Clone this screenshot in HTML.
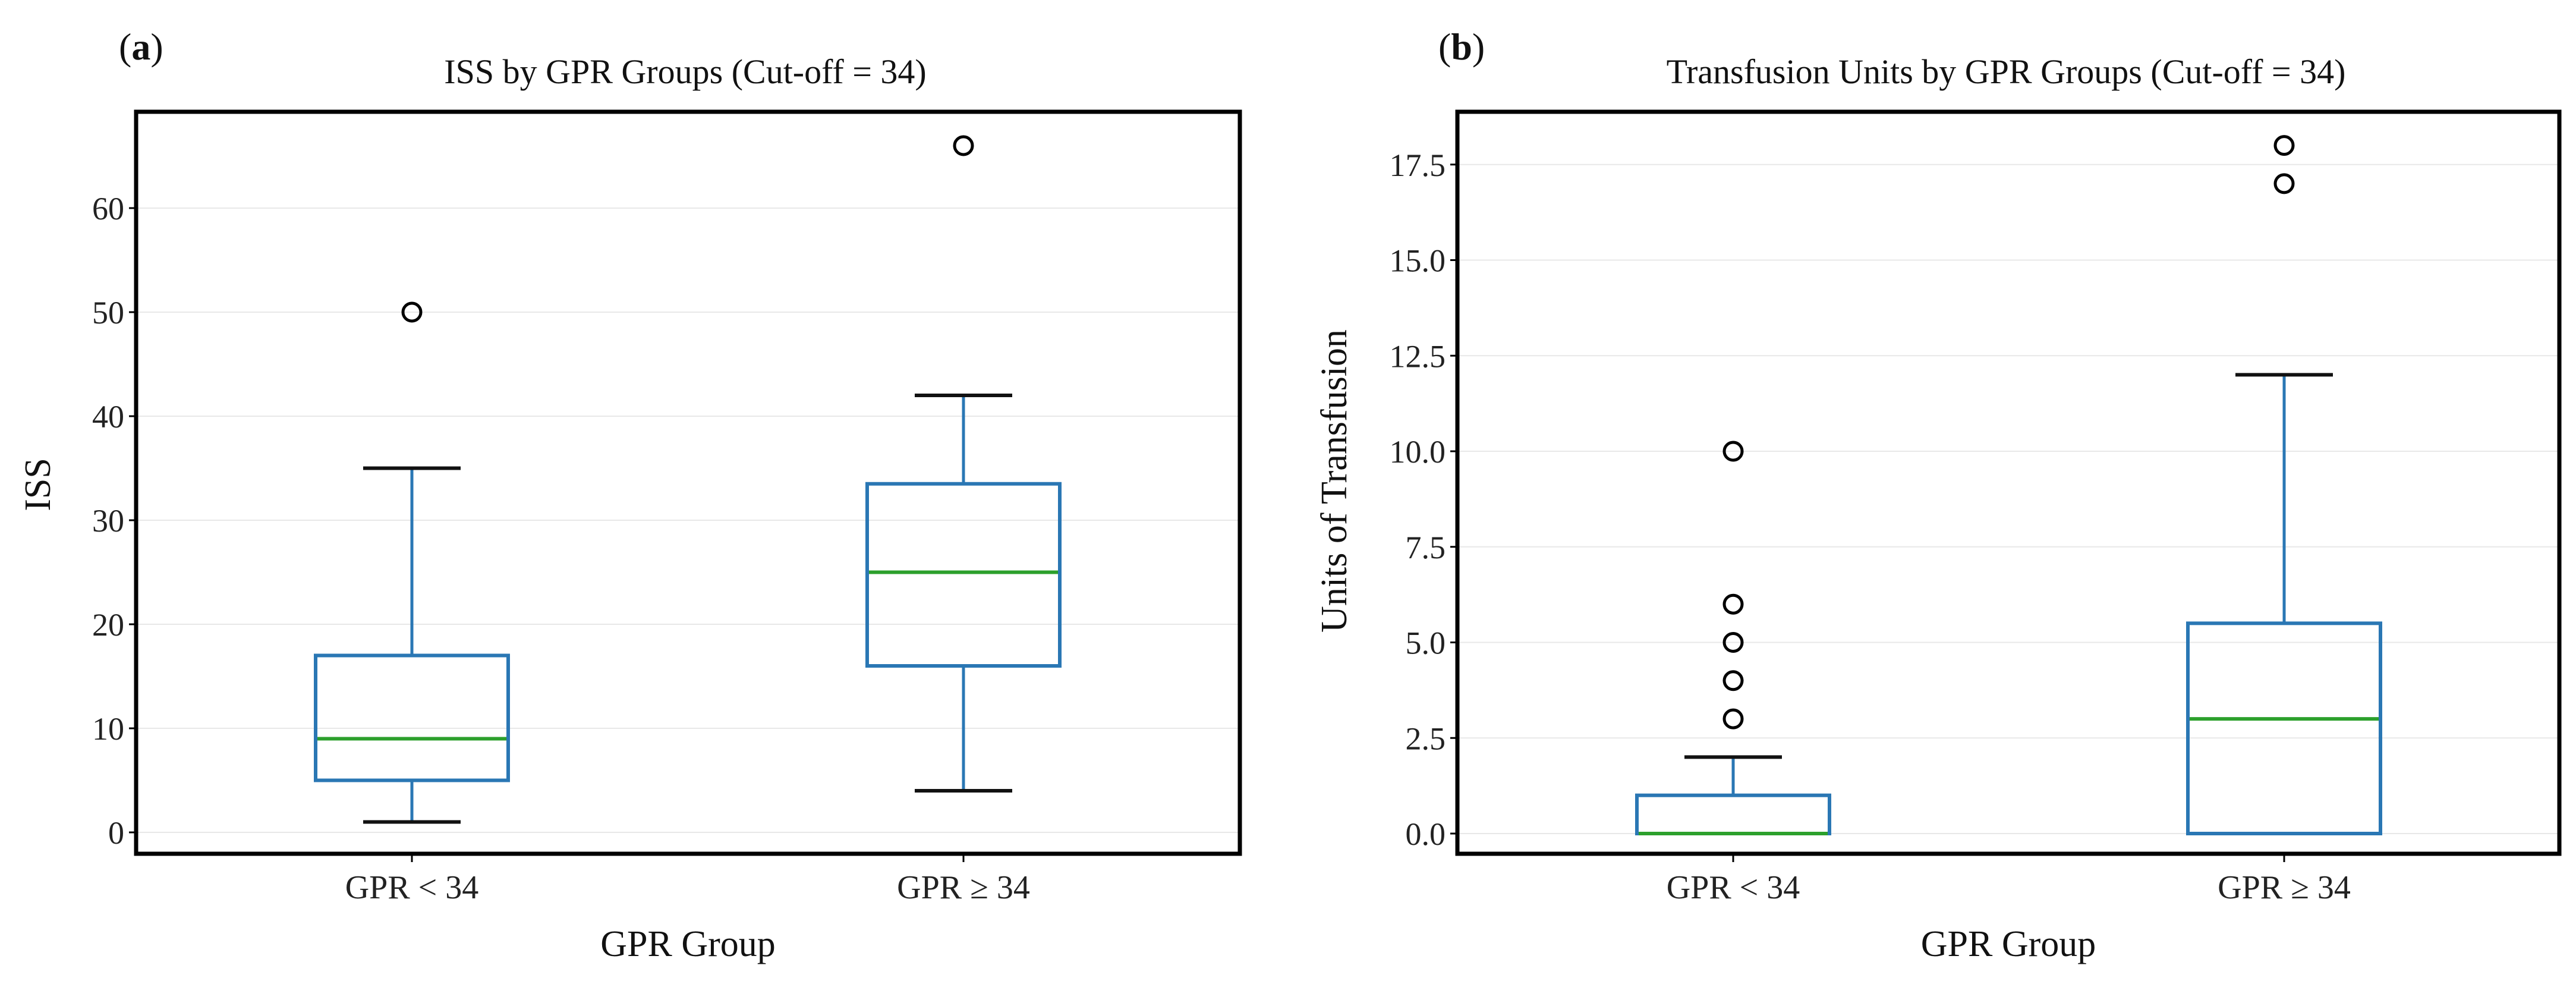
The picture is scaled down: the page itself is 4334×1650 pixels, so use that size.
<!DOCTYPE html>
<html><head><meta charset="utf-8"><style>
html,body{margin:0;padding:0;background:#fff;}
svg{display:block;font-family:"Liberation Serif",serif;}
</style></head><body>
<svg id="chart" width="4334" height="1650" viewBox="0 0 4334 1650" xmlns="http://www.w3.org/2000/svg"></svg>
<script>
// Panel (a) data: ISS
const catsA = ["GPR < 34", "GPR \u2265 34"];
const q1A = [5, 16];
const medA = [9, 25];
const q3A = [17, 33.5];
const loA = [1, 4];
const hiA = [35, 42];
const outA = [[50], [66]];
const ticksA = [0, 10, 20, 30, 40, 50, 60];
const tickLabelsA = ["0", "10", "20", "30", "40", "50", "60"];
// Panel (b) data: Transfusion units
const catsB = ["GPR < 34", "GPR \u2265 34"];
const q1B = [0, 0];
const medB = [0, 3];
const q3B = [1, 5.5];
const loB = [0, 0];
const hiB = [2, 12];
const outB = [[3, 4, 5, 6, 10], [17, 18]];
const ticksB = [0, 2.5, 5, 7.5, 10, 12.5, 15, 17.5];
const tickLabelsB = ["0.0", "2.5", "5.0", "7.5", "10.0", "12.5", "15.0", "17.5"];

const NS = "http://www.w3.org/2000/svg";
const svg = document.getElementById("chart");
function mk(tag, attrs, parent, text) {
  const e = document.createElementNS(NS, tag);
  for (const k in attrs) e.setAttribute(k, attrs[k]);
  if (text !== undefined) e.textContent = text;
  (parent || svg).appendChild(e);
  return e;
}

function panel(p) {
  const g = mk("g", {});
  
  
  const y = v => p.y0 - (v - 0) * p.pxPerUnit;
  const x = i => p.xc[i];
  // gridlines
  p.ticks.forEach((t, i) => {
    const gl = mk("line", {x1: p.left, x2: p.right, y1: y(t), y2: y(t), stroke: "#e8e8e8", "stroke-width": 2}, g);
    
    
    const tk = mk("line", {x1: p.left - 12, x2: p.left, y1: y(t), y2: y(t), stroke: "#000", "stroke-width": 3}, g);
    
    
    const tl = mk("text", {x: p.left - 20, y: y(t) + 19, "text-anchor": "end", "font-size": 54, fill: "#222"}, g, p.tickLabels[i]);
    
    
  });
  // boxes
  p.cats.forEach((c, i) => {
    const cx = x(i);
    const bg = mk("g", {}, g);
    
    
    const w1 = mk("line", {x1: cx, x2: cx, y1: y(p.q3[i]), y2: y(p.hi[i]), stroke: "#2a77b4", "stroke-width": 5}, bg);
    
    
    const w2 = mk("line", {x1: cx, x2: cx, y1: y(p.q1[i]), y2: y(p.lo[i]), stroke: "#2a77b4", "stroke-width": 5}, bg);
    
    
    const c1 = mk("line", {x1: cx - 82, x2: cx + 82, y1: y(p.hi[i]), y2: y(p.hi[i]), stroke: "#111", "stroke-width": 6}, bg);
    
    
    const c2 = mk("line", {x1: cx - 82, x2: cx + 82, y1: y(p.lo[i]), y2: y(p.lo[i]), stroke: "#111", "stroke-width": 6}, bg);
    
    
    const r = mk("rect", {x: cx - 162, y: y(p.q3[i]), width: 324, height: y(p.q1[i]) - y(p.q3[i]), fill: "none", stroke: "#2a77b4", "stroke-width": 6}, bg);
    
    
    const m = mk("line", {x1: cx - 159, x2: cx + 159, y1: y(p.med[i]), y2: y(p.med[i]), stroke: "#2ca02c", "stroke-width": 6}, bg);
    
    
    p.out[i].forEach(v => {
      const o = mk("circle", {cx: cx, cy: y(v), r: 15, fill: "none", stroke: "#000", "stroke-width": 5}, bg);
      
      
    });
    const xt = mk("line", {x1: cx, x2: cx, y1: p.bottom, y2: p.bottom + 14, stroke: "#000", "stroke-width": 3}, g);
    
    
    const xl = mk("text", {x: cx, y: 1511, "text-anchor": "middle", "font-size": 56, fill: "#222"}, g, c);
    
    
  });
  const fr = mk("rect", {x: p.left, y: p.top, width: p.right - p.left, height: p.bottom - p.top, fill: "none", stroke: "#000", "stroke-width": 7}, g);
  
  
  const t = mk("text", {x: p.titleX, y: 140, "text-anchor": "middle", "font-size": 58, fill: "#111"}, g, p.title);
  
  
  const lab = mk("text", {x: p.labX, y: 100, "font-size": 64, fill: "#111"}, g);
  
  
  mk("tspan", {}, lab, "(");
  mk("tspan", {"font-weight": "bold"}, lab, p.letter);
  mk("tspan", {}, lab, ")");
  const xlab = mk("text", {x: (p.left + p.right) / 2, y: 1608, "text-anchor": "middle", "font-size": 62, fill: "#111"}, g, "GPR Group");
  
  
  const ylab = mk("text", {x: 0, y: 0, "text-anchor": "middle", "font-size": 62, fill: "#111", transform: "translate(" + p.ylabX + "," + p.ylabY + ") rotate(-90)"}, g, p.ylabel);
  
  
}

panel({id: "iss", letter: "a", labX: 200, title: "ISS by GPR Groups (Cut-off = 34)", titleX: 1153,
  left: 229, right: 2086, top: 188, bottom: 1436, y0: 1400, pxPerUnit: 17.5, xc: [693, 1621],
  ticks: ticksA, tickLabels: tickLabelsA, cats: catsA, q1: q1A, med: medA, q3: q3A, lo: loA, hi: hiA, out: outA,
  ylabel: "ISS", ylabX: 84, ylabY: 815});
panel({id: "transfusion", letter: "b", labX: 2420, title: "Transfusion Units by GPR Groups (Cut-off = 34)", titleX: 3375,
  left: 2452, right: 4306, top: 188, bottom: 1436, y0: 1402, pxPerUnit: 64.3, xc: [2916, 3843],
  ticks: ticksB, tickLabels: tickLabelsB, cats: catsB, q1: q1B, med: medB, q3: q3B, lo: loB, hi: hiB, out: outB,
  ylabel: "Units of Transfusion", ylabX: 2265, ylabY: 809});
</script>
</body></html>
